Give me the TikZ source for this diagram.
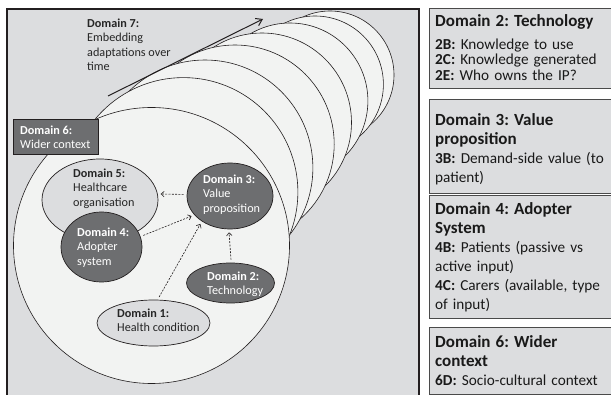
\documentclass[tikz,border=0pt]{standalone}
\usepackage{fontspec}
\setmainfont{Carlito}
\usetikzlibrary{shapes.geometric,arrows.meta}
\definecolor{panelbg}{HTML}{DCDDDF}
\definecolor{ringfill}{HTML}{F2F3F2}
\definecolor{darknode}{HTML}{6D6E70}
\definecolor{lightnode}{HTML}{DCDDDF}
\definecolor{edge}{HTML}{231F20}
\definecolor{boxedge}{HTML}{4A4A4A}
\begin{document}
\frenchspacing
\begin{tikzpicture}[x=1pt,y=-1pt,
  ring/.style={draw=edge, line width=0.6pt, fill=ringfill},
  darkell/.style={ellipse, draw=edge, line width=0.7pt, fill=darknode, inner sep=0pt},
  lightell/.style={ellipse, draw=edge, line width=0.7pt, fill=lightnode, inner sep=0pt},
  lbl/.style={anchor=north west, align=left, inner sep=0pt, font=\fontsize{12.2}{14.6}\selectfont, text=black!85},
  lbldark/.style={lbl, text=white},
  darr/.style={draw=edge, line width=0.6pt, dash pattern=on 2pt off 1.3pt, -{Straight Barb[length=3pt,width=5.5pt]}, shorten >=3pt, shorten <=3pt},
  rboxshape/.style={draw=boxedge, line width=1.2pt, fill=panelbg, anchor=north west, minimum width=200pt, inner sep=0pt},
  rtext/.style={anchor=north west, inner sep=0pt, text width=176pt, align=left, font=\fontsize{15.25}{19}\selectfont, text=black!90},
  d6box/.style={draw=edge, line width=0.8pt, fill=darknode, anchor=north west, inner sep=0pt}
]
\newcommand{\ttlf}{\fontsize{17}{20}\selectfont\bfseries}
\useasboundingbox (0,0) rectangle (611,395);
\fill[white] (0,0) rectangle (611,395);
% left panel
\fill[panelbg] (7,9) rectangle (419,396);
\draw[line width=1.2pt, edge] (7,396) -- (7,9) -- (419,9) -- (419,396);
% slinky rings, back to front
\foreach \cx/\cy/\r in {330/75/64, 315/84.4/68.4, 290/100.9/77.9, 262/122.5/89.5, 235/144.2/99.2, 205/167.9/107.9, 183.4/192.1/114.5, 151.5/245.5/138}
  \draw[ring] (\cx,\cy) circle [radius=\r pt];
% domain ellipses
\node[lightell, minimum width=116pt, minimum height=82pt] (d5) at (100,200) {};
\node[darkell, minimum width=81pt, minimum height=70pt] (d4) at (101.5,247) {};
\node[darkell, minimum width=86pt, minimum height=66pt] (d3) at (230,196) {};
\node[darkell, minimum width=88pt, minimum height=40pt] (d2) at (230.5,283) {};
\node[lightell, minimum width=113pt, minimum height=46pt] (d1) at (153.5,323) {};
% labels
\node[lbl] (t5) at (73,168.4) {\textbf{Domain 5:}\\Healthcare\\organisation};
\node[lbldark] (t4) at (77,227.4) {\textbf{Domain 4:}\\Adopter\\system};
\node[lbldark] (t3) at (203,174.4) {\textbf{Domain 3:}\\Value\\proposition};
\node[lbldark] (t2) at (207,271.4) {\textbf{Domain 2:}\\Technology};
\node[lbl] (t1) at (117,308.4) {\textbf{Domain 1:}\\Health condition};
% connectors
\draw[darr] (d3.178) -- (d5.6);
\draw[darr] (d4.15) -- (d3.208);
\draw[darr] (d1.80) -- (d3.222);
\draw[darr] (d2.88) -- (d3.268);
% domain 6
\node[d6box, minimum width=85pt, minimum height=35pt] (d6) at (13,119) {};
\node[lbldark] (t6) at (20,125.4) {\textbf{Domain 6:}\\Wider context};
% domain 7
\node[lbl] (t7) at (87,18.4) {\textbf{Domain 7:}\\Embedding\\adaptations over\\time};
\coordinate (a7s) at (108,96);
\coordinate (a7e) at (263,19);
\draw[line width=1pt, edge, -{Straight Barb[length=6pt,width=8pt]}] (a7s) -- (a7e);
% right boxes
\node[rboxshape, minimum height=80pt] (b1) at (429,8) {};
\node[rboxshape, minimum height=94pt] (b2) at (429,99) {};
\node[rboxshape, minimum height=123pt] (b3) at (429,195) {};
\node[rboxshape, minimum height=67pt] (b4) at (429,327) {};
\node[rtext] (r1) at (435,14) {{\ttlf Domain 2: Technology}\\[4pt]\textbf{2B:} Knowledge to use\\[-3.5pt]\textbf{2C:} Knowledge generated\\[-3.5pt]\textbf{2E:} Who owns the IP?};
\node[rtext] (r2) at (435,113) {{\ttlf Domain 3: Value}\\[0.5pt]{\ttlf proposition}\\\textbf{3B:} Demand-side value (to\\patient)};
\node[rtext] (r3) at (435,202) {{\ttlf Domain 4: Adopter}\\[0.5pt]{\ttlf System}\\\textbf{4B:} Patients (passive vs\\active input)\\\textbf{4C:} Carers (available, type\\of input)};
\node[rtext] (r4) at (435,335) {{\ttlf Domain 6: Wider}\\[0.5pt]{\ttlf context}\\\textbf{6D:} Socio-cultural context};
\end{tikzpicture}
\end{document}
